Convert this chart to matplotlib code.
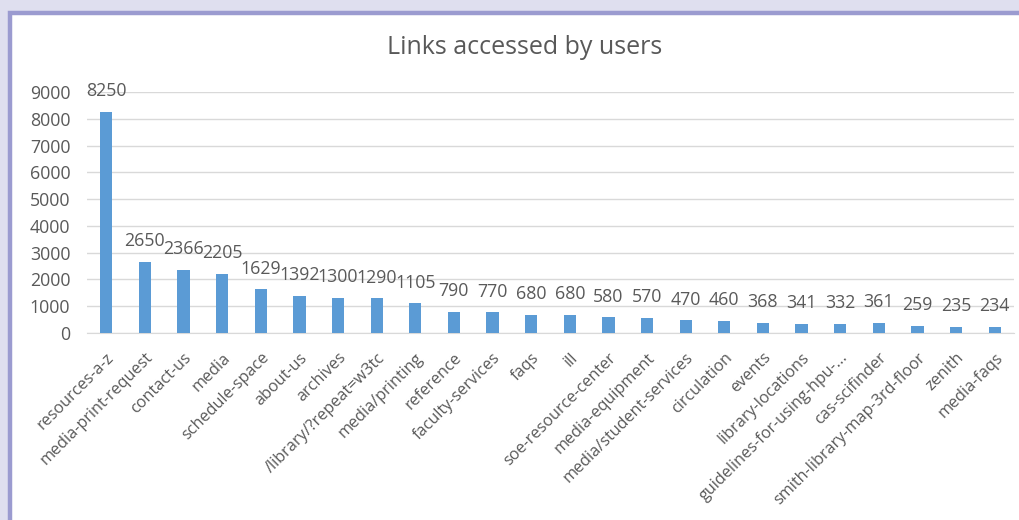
import matplotlib
matplotlib.use("Agg")
import matplotlib.pyplot as plt
from matplotlib.patches import Rectangle

categories = ["resources-a-z", "media-print-request", "contact-us", "media", "schedule-space",
              "about-us", "archives", "/library/?repeat=w3tc", "media/printing", "reference",
              "faculty-services", "faqs", "ill", "soe-resource-center", "media-equipment",
              "media/student-services", "circulation", "events", "library-locations",
              "guidelines-for-using-hpu-...", "cas-scifinder", "smith-library-map-3rd-floor",
              "zenith", "media-faqs"]
values = [8250, 2650, 2366, 2205, 1629, 1392, 1300, 1290, 1105, 790, 770, 680, 680, 580, 570,
          470, 460, 368, 341, 332, 361, 259, 235, 234]
yticks = list(range(0, 9001, 1000))

plt.rcParams['font.family'] = ['Open Sans', 'DejaVu Sans']
text_color = '#595959'

fig = plt.figure(figsize=(10.2, 5.2), dpi=100)
fig.patch.set_facecolor('#dfdfef')
bg = Rectangle((10.5/1020, -0.2), 1.2, 1 - 12.5/520 + 0.2,
               transform=fig.transFigure, facecolor='white',
               edgecolor='#9b9bd0', linewidth=3.2, zorder=-10)
fig.add_artist(bg)

ax = fig.add_axes([87/1020, 1 - 333/520, (1014 - 87)/1020, (333 - 92)/520])
ax.set_zorder(5)
ax.set_facecolor('none')
x = list(range(len(categories)))
ax.bar(x, values, width=0.32, color='#5b9bd5', zorder=3)
for xi, v in zip(x, values):
    ax.annotate(str(v), (xi, v), xytext=(0, 15), textcoords='offset points',
                ha='center', va='center', fontsize=12.8, color=text_color)

ax.set_ylim(0, 9000)
ax.set_xlim(-0.5, len(categories) - 0.5)
ax.set_yticks(yticks)
ax.set_yticklabels([str(t) for t in yticks], fontsize=12.8, color=text_color)
ax.tick_params(axis='y', length=0, pad=12)
ax.set_xticks(x)
ax.set_xticklabels(categories, rotation=45, ha='right', rotation_mode='anchor',
                   fontsize=11.7, color=text_color)
ax.tick_params(axis='x', length=0, pad=12)
ax.grid(axis='y', color='#d9d9d9', linewidth=1, zorder=0)
for s in ['top', 'right', 'left']:
    ax.spines[s].set_visible(False)
ax.spines['bottom'].set_color('#d9d9d9')

fig.text(525/1020, 1 - 48/520, "Links accessed by users", ha='center', va='center',
         fontsize=18, color=text_color, zorder=6)

fig.savefig('out.png', dpi=100, facecolor=fig.get_facecolor())
